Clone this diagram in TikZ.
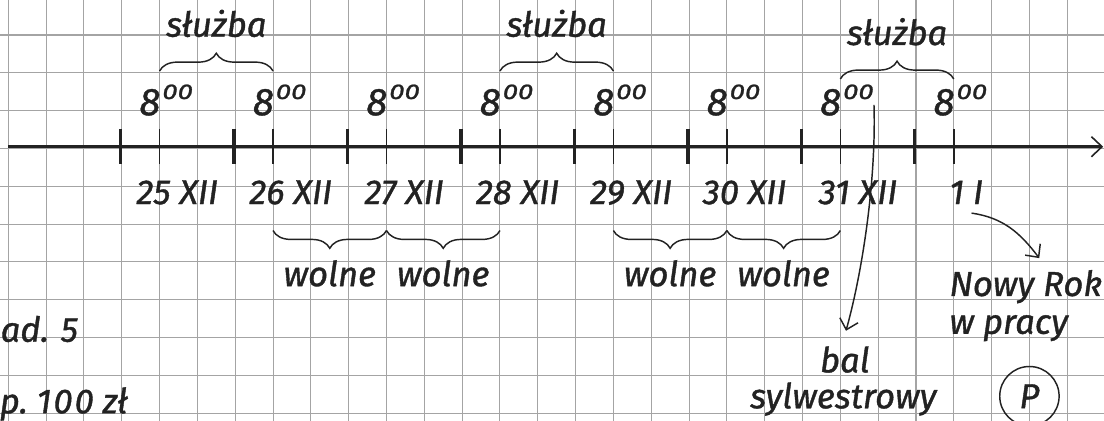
\documentclass[tikz,border=0pt]{standalone}
\usepackage{fontspec}
\setmainfont{Fira Sans}[ItalicFeatures={FakeBold=1.1}]
\usetikzlibrary{arrows.meta,decorations.pathreplacing}
\definecolor{ink}{HTML}{222222}
\definecolor{gridc}{HTML}{A4A4A4}
\begin{document}
\begin{tikzpicture}[
  txt/.style={font=\fontsize{26}{30}\selectfont\itshape, text=ink, inner sep=0pt},
  bigtxt/.style={font=\fontsize{29}{30}\selectfont\itshape, text=ink, inner sep=0pt},
  gridline/.style={draw=gridc, line width=0.8pt},
  axisline/.style={draw=ink, line width=1.9pt, -{Straight Barb[length=0.28cm,width=0.53cm,line width=1.2pt]}},
  daytick/.style={draw=ink, line width=2.5pt},
  hourtick/.style={draw=ink, line width=1.2pt},
  ubrace/.style={draw=ink, line width=1.1pt, decorate, decoration={brace, amplitude=0.47cm}},
  arr/.style={draw=ink, line width=1.1pt, -{Straight Barb[length=0.26cm,width=0.5cm]}}
]
\useasboundingbox (-0.2195,0.9254) rectangle (28.972,-10.206);
\clip (-0.2195,0.9254) rectangle (28.972,-10.206);
% grid
\foreach \x in {0,...,28} \draw[gridline] (\x,0.95) -- (\x,-10.25);
\foreach \y in {0,...,10} \draw[gridline] (-0.25,-\y) -- (29,-\y);
% axis
\coordinate (axstart) at (0,-2.953);
\coordinate (axend) at (28.95,-2.953);
\draw[axisline] (axstart) -- (axend);
% day ticks (midnight) and hour ticks (8:00)
\foreach \i in {0,...,7} {
  \coordinate (m\i top) at (2.97+3*\i,-2.49);
  \coordinate (m\i bot) at (2.97+3*\i,-3.41);
  \draw[daytick] (m\i top) -- (m\i bot);
  \coordinate (h\i top) at (4+3*\i,-2.49);
  \coordinate (h\i bot) at (4+3*\i,-3.41);
  \draw[hourtick] (h\i top) -- (h\i bot);
  \node[bigtxt, anchor=base east] (eight\i) at (4.03+3*\i,-2.12)
    {8\rlap{\kern0.05em\raisebox{0.42em}{\fontsize{16}{16}\selectfont\scalebox{1.3}[1]{00}}}};
}
% day labels
\foreach \i/\lab in {0/25 XII,1/26 XII,2/27 XII,3/28 XII,4/29 XII,5/30 XII,6/31 XII}
  \node[txt, anchor=base] (day\i) at (4.47+3*\i,-4.47) {\lab};
\node[txt, anchor=base] (day7) at (25.33,-4.47) {1 I};
% upper braces: sluzba
\coordinate (s1a) at (4,-0.952);  \coordinate (s1b) at (7,-0.952);
\coordinate (s2a) at (13,-0.952); \coordinate (s2b) at (16,-0.952);
\coordinate (s3a) at (22,-1.163); \coordinate (s3b) at (25,-1.163);
\draw[ubrace] (s1a) -- (s1b);
\draw[ubrace] (s2a) -- (s2b);
\draw[ubrace] (s3a) -- (s3b);
\node[txt, anchor=base] (sl1) at (5.5,-0.045) {służba};
\node[txt, anchor=base] (sl2) at (14.5,-0.045) {służba};
\node[txt, anchor=base] (sl3) at (23.5,-0.264) {służba};
% lower braces: wolne
\foreach \i/\a/\b in {1/7/10,2/10/13,3/16/19,4/19/22} {
  \coordinate (w\i a) at (\a,-5.17);
  \coordinate (w\i b) at (\b,-5.17);
  \draw[ubrace] (w\i b) -- (w\i a);
  \node[txt, anchor=base] (wol\i) at ({(\a+\b)/2},-6.64) {wolne};
}
% bal sylwestrowy arrow
\coordinate (balstart) at (22.89,-1.85);
\coordinate (balend) at (22.15,-7.82);
\draw[arr] (balstart) .. controls (22.95,-3.8) and (22.6,-6.2) .. (balend);
\node[txt, anchor=base] (bal) at (22.12,-8.92) {bal};
\node[txt, anchor=base] (sylw) at (22.08,-9.87) {sylwestrowy};
% Nowy Rok arrow
\coordinate (nrstart) at (25.47,-4.71);
\coordinate (nrend) at (27.26,-5.90);
\draw[arr] (nrstart) to[out=-8,in=127] (nrend);
\node[txt, anchor=base west] (nowy) at (24.88,-6.9) {Nowy Rok};
\node[txt, anchor=base west] (prac) at (24.88,-7.9) {w pracy};
\node[txt, draw=ink, line width=1.1pt, circle, minimum size=1.57cm] (pcirc) at (27.0,-9.55) {P};
% left texts
\node[txt, anchor=base east] (zad) at (1.85,-8.11) {ad. 5};
\node[txt, anchor=base east] (kwota) at (3.16,-10.0) {p.\ 1\kern0.06em 0\kern0.06em 0 zł};
\end{tikzpicture}
\end{document}
